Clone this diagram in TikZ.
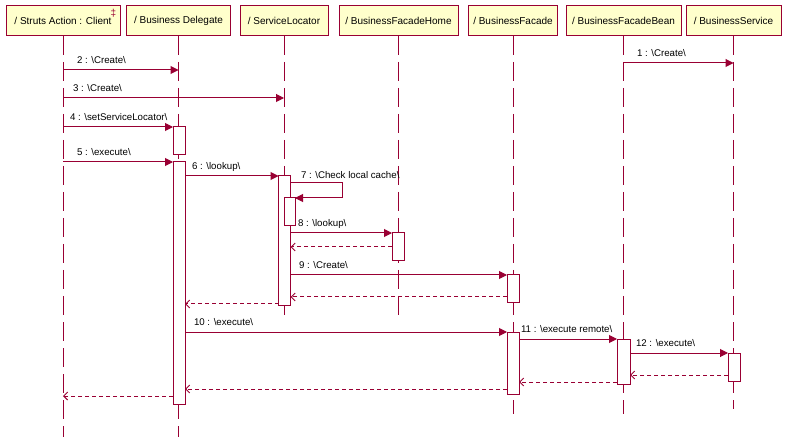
\documentclass[tikz,border=0pt]{standalone}
\usepackage{fontspec}
\setmainfont{Liberation Sans}
\usetikzlibrary{arrows.meta}
\definecolor{seqline}{RGB}{153,0,51}
\definecolor{headfill}{RGB}{255,255,204}
\newcommand{\msgbs}{\textbackslash}
\begin{document}
\begin{tikzpicture}[x=1pt,y=-1pt,
  every node/.style={font=\fontsize{10}{12}\selectfont, inner sep=0pt, outer sep=0pt},
  head/.style={draw=seqline, fill=headfill, line width=1pt, minimum height=30pt},
  lifeline/.style={draw=seqline, line width=1pt, dash pattern=on 19pt off 7pt},
  act/.style={draw=seqline, fill=white, line width=1pt, minimum width=12pt},
  call/.style={draw=seqline, line width=1pt, -{Triangle[length=8pt,width=8pt]}},
  reply/.style={draw=seqline, line width=1pt, dash pattern=on 4pt off 3pt,
    -{Straight Barb[length=4pt,width=8pt]}},
  msg/.style={anchor=west, text=black, font=\fontsize{9.7}{12}\selectfont}
]
\useasboundingbox (0,0) rectangle (787,446);

% participant headers
\node[head, minimum width=114pt] (client)  at (63,21)    {/ Struts Action : Client};
\node[head, minimum width=104pt] (deleg)   at (178.5,21) {/ Business Delegate};
\node[head, minimum width=88pt]  (locator) at (284,21)   {/ ServiceLocator};
\node[head, minimum width=119pt] (home)    at (398.5,21) {/ BusinessFacadeHome};
\node[head, minimum width=89pt]  (facade)  at (513,21)   {/ BusinessFacade};
\node[head, minimum width=115pt] (bean)    at (623.5,21) {/ BusinessFacadeBean};
\node[head, minimum width=95pt]  (service) at (733.5,21) {/ BusinessService};
\node[text=seqline, font=\fontsize{10}{10}\selectfont] (clientmark) at (113.5,13) {‡};

% lifeline ends
\coordinate (clientEnd)  at (63,437);
\coordinate (delegEnd)   at (178.5,437);
\coordinate (locatorEnd) at (284,318);
\coordinate (homeEnd)    at (398.5,318);
\coordinate (facadeEnd)  at (513,414);
\coordinate (beanEnd)    at (623.5,414);
\coordinate (serviceEnd) at (733.5,409);

\draw[lifeline] (client.south)  -- (clientEnd);
\draw[lifeline] (deleg.south)   -- (delegEnd);
\draw[lifeline] (locator.south) -- (locatorEnd);
\draw[lifeline] (home.south)    -- (homeEnd);
\draw[lifeline] (facade.south)  -- (facadeEnd);
\draw[lifeline] (bean.south)    -- (beanEnd);
\draw[lifeline] (service.south) -- (serviceEnd);

% activation bars
\node[act, minimum height=28pt]  (dA1) at (179,141)   {};
\node[act, minimum height=242pt] (dA2) at (179,283)   {};
\node[act, minimum height=130pt] (sA1) at (284.5,241) {};
\node[act, minimum height=28pt, minimum width=11pt] (sA2) at (289.5,212) {};
\node[act, minimum height=28pt]  (hA)  at (398,247)   {};
\node[act, minimum height=28pt]  (fA1) at (513,289)   {};
\node[act, minimum height=62pt]  (fA2) at (513,363)   {};
\node[act, minimum height=45pt, minimum width=13pt] (bA) at (623.5,361.5) {};
\node[act, minimum height=28pt]  (svA) at (734,367)   {};

% message anchor points on lifelines
\coordinate (m1s) at (623.5,63);
\coordinate (m1e) at (733.5,63);
\coordinate (m2s) at (63,70);
\coordinate (m2e) at (178.5,70);
\coordinate (m3s) at (63,98);
\coordinate (m3e) at (284,98);
\coordinate (m4s) at (63,127);
\coordinate (m5s) at (63,162);
\coordinate (m7c) at (342,183);
\coordinate (r8)  at (0,247);
\coordinate (r9)  at (0,297);
\coordinate (r6)  at (0,304);
\coordinate (r12) at (0,375);
\coordinate (r11) at (0,382);
\coordinate (r10) at (0,389);
\coordinate (r5)  at (63,396);

% synchronous calls
\draw[call] (m1s) -- (m1e);
\draw[call] (m2s) -- (m2e);
\draw[call] (m3s) -- (m3e);
\draw[call] (m4s) -- (dA1.north west);
\draw[call] (m5s) -- (dA2.north west);
\draw[call] (dA2.east |- sA1.north) -- (sA1.north west);
\draw[call] (sA1.east |- m7c) -- (m7c) -- (m7c |- sA2.north) -- (sA2.north east);
\draw[call] (sA1.east |- hA.north) -- (hA.north west);
\draw[call] (sA1.east |- fA1.north) -- (fA1.north west);
\draw[call] (dA2.east |- fA2.north) -- (fA2.north west);
\draw[call] (fA2.east |- bA.north) -- (bA.north west);
\draw[call] (bA.east |- svA.north) -- (svA.north west);

% returns
\draw[reply] (hA.west |- r8)    -- (sA1.east |- r8);
\draw[reply] (fA1.west |- r9)   -- (sA1.east |- r9);
\draw[reply] (sA1.west |- r6)   -- (dA2.east |- r6);
\draw[reply] (svA.west |- r12)  -- (bA.east |- r12);
\draw[reply] (bA.west |- r11)   -- (fA2.east |- r11);
\draw[reply] (fA2.west |- r10)  -- (dA2.east |- r10);
\draw[reply] (dA2.west |- r5)   -- (r5);

% message labels
\node[msg] (l1)  at (637,53.5)  {1 : \msgbs Create\msgbs};
\node[msg] (l2)  at (77,60.5)   {2 : \msgbs Create\msgbs};
\node[msg] (l3)  at (73,88.5)   {3 : \msgbs Create\msgbs};
\node[msg] (l4)  at (70,117.5)  {4 : \msgbs setServiceLocator\msgbs};
\node[msg] (l5)  at (77,152.5)  {5 : \msgbs execute\msgbs};
\node[msg] (l6)  at (192,166.5) {6 : \msgbs lookup\msgbs};
\node[msg] (l7)  at (301,175)   {7 : \msgbs Check local cache\msgbs};
\node[msg] (l8)  at (298,223.5) {8 : \msgbs lookup\msgbs};
\node[msg] (l9)  at (299,265.5) {9 : \msgbs Create\msgbs};
\node[msg] (l10) at (194,322.5) {10 : \msgbs execute\msgbs};
\node[msg] (l11) at (521,329.5) {11 : \msgbs execute remote\msgbs};
\node[msg] (l12) at (636,343.5) {12 : \msgbs execute\msgbs};
\end{tikzpicture}
\end{document}
